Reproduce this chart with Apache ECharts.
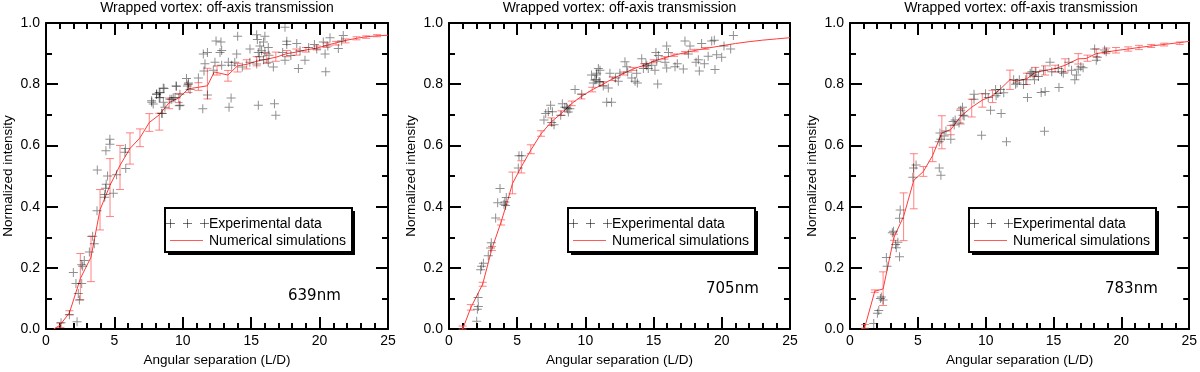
<!DOCTYPE html>
<html>
<head>
<meta charset="utf-8">
<script src="https://cdn.jsdelivr.net/npm/echarts@6/dist/echarts.min.js"></script>
<style>
  html, body { margin: 0; padding: 0; background: #fff; }
  #chart { width: 1200px; height: 372px; }
</style>
</head>
<body>
<div id="chart"></div>
<script>
// ---- data ----
var titleText = "Wrapped vortex: off-axis transmission";
var wavelengths = ["639nm", "705nm", "783nm"];

// experimental points [x, y]
var exp639 = [
  [1.1,0.021],[2.27,0.024],[1.71,0.047],[2.0,0.185],[2.19,0.149],[2.36,0.116],[2.44,0.095],[2.61,0.149],
  [2.68,0.205],[2.8,0.224],[2.61,0.21],[3.17,0.252],[3.41,0.303],[3.53,0.279],[3.73,0.387],[3.75,0.52],
  [4.29,0.431],[4.38,0.583],[4.67,0.62],[4.67,0.604],[4.35,0.46],[4.4,0.473],[4.5,0.5],[4.3,0.44],
  [4.92,0.444],[5.16,0.504],[5.77,0.578],[5.8,0.59],[5.83,0.525],
  [7.72,0.746],[7.84,0.735],[8.08,0.767],[8.33,0.772],[8.57,0.788],[8.28,0.756],[8.5,0.704],[8.69,0.725],
  [9.06,0.751],[9.3,0.756],[9.54,0.793],[9.79,0.767],[9.74,0.73],[10.27,0.819],[10.39,0.8],
  [17.47,0.986],[14.01,0.957],[15.4,0.962],[15.45,0.946],[16.0,0.957],[15.9,0.938],[12.43,0.941],[12.79,0.938],
  [12.84,0.91],[12.72,0.904],[11.8,0.904],[11.5,0.899],[13.94,0.899],[14.91,0.915],[15.64,0.925],[15.52,0.904],
  [15.76,0.909],[16.0,0.904],[16.25,0.92],[17.6,0.94],[17.6,0.93],[18.33,0.933],[19.62,0.93],[20.27,0.938],
  [20.76,0.952],[21.73,0.959],[21.61,0.941],[18.57,0.909],[19.79,0.915],[20.4,0.899],[21.37,0.917],[17.3,0.904],
  [17.47,0.878],[18.93,0.878],[17.9,0.894],[18.45,0.851],[20.45,0.841],[16.62,0.856],[16.25,0.872],[15.4,0.866],
  [14.9,0.872],[14.35,0.856],[13.8,0.872],[13.33,0.872],[13.57,0.862],[12.84,0.862],[12.35,0.872],[12.23,0.846],
  [11.55,0.843],[11.62,0.867],[11.14,0.82],[10.41,0.804],[10.33,0.794],[10.53,0.783],[9.5,0.794],[8.63,0.786],
  [8.28,0.773],[8.09,0.768],[8.33,0.757],[7.73,0.741],[8.58,0.741],[9.19,0.751],[9.43,0.757],[9.8,0.731],
  [8.45,0.705],[11.8,0.765],[13.53,0.755],[13.38,0.725],[11.46,0.72],[15.52,0.731],[16.7,0.736],[16.8,0.699],
  [15.6,0.89],[15.9,0.88],[16.3,0.895],[19.2,0.92],[20.6,0.925]
];
var exp705 = [
  [2.03,0.026],[2.08,0.065],[2.15,0.074],[2.13,0.103],[2.32,0.194],[2.39,0.205],[2.52,0.215],[2.88,0.24],
  [3.1,0.282],[3.05,0.265],[3.42,0.363],[3.57,0.413],[3.74,0.459],[4.03,0.408],[4.1,0.415],[4.2,0.43],
  [4.15,0.404],[5.08,0.526],[5.13,0.566],[5.33,0.566],[6.96,0.683],[7.09,0.704],[7.28,0.71],[7.45,0.731],
  [7.58,0.71],[7.7,0.668],[7.53,0.675],[8.19,0.699],[8.31,0.736],[8.68,0.72],[8.49,0.725],[8.86,0.72],
  [9.24,0.783],[9.73,0.767],[8.63,0.725],[8.75,0.709],[10.83,0.836],[10.95,0.851],[11.07,0.846],[10.78,0.815],
  [11.07,0.807],[10.58,0.804],[11.31,0.794],[11.68,0.788],[11.8,0.836],[11.56,0.741],[11.92,0.741],[12.53,0.836],
  [12.41,0.81],[12.9,0.873],[13.03,0.857],[13.4,0.82],[13.76,0.836],[13.64,0.81],[13.81,0.804],[14.13,0.883],
  [14.44,0.867],[14.61,0.851],[14.25,0.851],[14.86,0.862],[15.1,0.846],[15.17,0.904],[15.35,0.894],[15.23,0.875],
  [15.3,0.801],[15.96,0.925],[16.09,0.904],[15.84,0.872],[15.96,0.853],[16.57,0.857],[16.74,0.867],[17.18,0.85],
  [17.3,0.941],[17.55,0.899],[17.67,0.925],[18.11,0.872],[18.28,0.88],[18.35,0.843],[18.52,0.933],[18.72,0.867],
  [19.0,0.891],[19.26,0.941],[19.45,0.944],[19.5,0.848],[19.62,0.896],[19.99,0.888],[20.16,0.925],[20.65,0.915],
  [20.85,0.959],[10.45,0.83],[10.81,0.83],[11.0,0.809],[10.69,0.814],[12.2,0.82],[14.5,0.86],[13.1,0.84]
];
var exp783 = [
  [1.75,0.018],[2.02,0.052],[2.12,0.061],[2.24,0.1],[2.31,0.105],[2.44,0.095],[2.68,0.234],[2.73,0.205],
  [3.12,0.315],[3.36,0.276],[3.41,0.266],[3.53,0.284],[3.65,0.236],[3.65,0.362],[3.7,0.389],[4.63,0.496],
  [4.68,0.526],[4.87,0.536],[6.58,0.526],[6.7,0.503],[6.58,0.612],[6.7,0.62],[6.63,0.641],[6.94,0.631],
  [7.07,0.647],[7.43,0.62],[7.6,0.678],[7.75,0.683],[8.04,0.673],[8.16,0.715],[8.33,0.699],[7.68,0.667],
  [8.29,0.725],[8.41,0.696],[9.14,0.767],[9.14,0.751],[9.7,0.633],[9.99,0.769],[10.19,0.757],[10.36,0.715],
  [10.77,0.762],[10.73,0.783],[11.09,0.783],[11.14,0.704],[11.53,0.612],[11.33,0.772],[12.06,0.815],[12.31,0.804],
  [12.48,0.815],[12.79,0.799],[12.96,0.815],[13.08,0.757],[13.28,0.836],[13.4,0.841],[13.6,0.815],[13.7,0.841],
  [13.89,0.825],[14.09,0.773],[14.38,0.776],[14.33,0.646],[14.26,0.846],[14.74,0.872],[14.87,0.841],[15.35,0.851],
  [15.4,0.789],[15.59,0.841],[15.72,0.836],[16.33,0.846],[16.57,0.815],[16.82,0.849],[17.01,0.857],[17.18,0.854],
  [16.69,0.83],[16.13,0.872],[18.03,0.915],[18.15,0.878],[18.23,0.888],[18.76,0.912],[18.88,0.906],[13.5,0.83],
  [12.2,0.8],[3.2,0.32],[10.9,0.77]
];

// simulation curves [x, y]
var sim639 = [
  [0.55,0],[1.0,0.012],[1.71,0.053],[2.51,0.165],[3.29,0.235],[3.95,0.39],[4.68,0.47],[5.41,0.535],
  [6.14,0.59],[6.87,0.625],[7.55,0.675],[8.28,0.7],[9.0,0.74],[9.7,0.755],[10.41,0.785],[11.14,0.79],
  [11.8,0.795],[12.3,0.84],[13.3,0.83],[14.0,0.86],[14.67,0.865],[15.4,0.875],[16.14,0.882],[16.8,0.888],
  [17.6,0.9],[18.3,0.905],[19.0,0.912],[19.8,0.918],[20.5,0.927],[21.2,0.935],[21.9,0.943],[22.7,0.95],
  [23.4,0.955],[24.2,0.958],[25,0.96]
];
var sim705 = [
  [1.0,0.0],[1.6,0.07],[2.47,0.147],[3.15,0.263],[3.82,0.35],[4.3,0.42],[4.65,0.475],[5.3,0.53],
  [6.0,0.585],[6.75,0.638],[7.5,0.677],[8.25,0.705],[9.0,0.737],[9.7,0.76],[10.5,0.782],[11.3,0.8],
  [12.0,0.818],[12.8,0.835],[13.5,0.85],[14.3,0.862],[15.0,0.875],[15.8,0.886],[16.5,0.895],[17.3,0.903],
  [18.0,0.91],[18.8,0.917],[19.5,0.922],[20.3,0.928],[21.0,0.933],[22,0.939],[23,0.944],[24,0.948],[25,0.952]
];
var sim783 = [
  [0.85,0],[1.1,0.008],[1.83,0.124],[2.44,0.131],[3.24,0.3],[3.95,0.368],[4.7,0.486],[5.41,0.515],
  [6.09,0.567],[6.77,0.641],[7.43,0.652],[8.16,0.695],[8.97,0.725],[9.75,0.748],[10.5,0.762],[11.1,0.785],
  [11.79,0.815],[12.3,0.81],[13.03,0.818],[13.65,0.838],[14.38,0.845],[15.12,0.851],[15.85,0.862],[16.82,0.883],
  [17.4,0.884],[18.15,0.9],[18.88,0.905],[19.6,0.91],[20.5,0.915],[21.3,0.92],[22.2,0.925],[23.15,0.93],
  [24.3,0.936],[25,0.94]
];

// simulation error bars [x, low, high]
var err639 = [
  [1.05,0.005,0.02],[1.71,0.047,0.06],[2.51,0.096,0.247],[3.29,0.155,0.303],[3.95,0.324,0.456],[4.68,0.368,0.557],
  [5.41,0.456,0.6],[6.14,0.539,0.641],[6.87,0.596,0.654],[7.55,0.646,0.704],[8.28,0.65,0.705],[9.0,0.72,0.755],
  [9.7,0.74,0.77],[10.41,0.773,0.8],[11.14,0.78,0.805],[11.8,0.752,0.852],[12.5,0.83,0.86],[13.3,0.81,0.845],
  [14.0,0.84,0.868],[14.67,0.85,0.88],[15.4,0.86,0.89],[16.14,0.868,0.9],[16.8,0.875,0.905],[17.6,0.89,0.91],
  [18.3,0.895,0.915],[19.0,0.905,0.92],[19.8,0.912,0.925],[20.5,0.92,0.935],[21.2,0.928,0.94],[21.9,0.935,0.948],
  [22.7,0.945,0.955],[23.4,0.95,0.958],[24.2,0.955,0.962]
];
var err705 = [
  [1.0,0.0,0.01],[1.6,0.062,0.08],[2.47,0.14,0.153],[3.15,0.257,0.27],[3.82,0.34,0.357],[4.65,0.442,0.513],
  [5.3,0.51,0.55],[6.0,0.573,0.602],[6.75,0.63,0.648],[7.5,0.665,0.69],[8.25,0.698,0.713],[9.0,0.73,0.745],
  [9.7,0.752,0.768],[10.5,0.775,0.79],[11.3,0.795,0.808],[12.0,0.812,0.824],[12.8,0.83,0.84],[13.5,0.845,0.855],
  [14.3,0.857,0.867],[15.0,0.87,0.88],[15.8,0.882,0.89],[16.5,0.891,0.899],[17.3,0.899,0.907],[18.0,0.906,0.914],
  [18.8,0.914,0.92]
];
var err783 = [
  [1.1,0.003,0.015],[1.83,0.12,0.128],[2.44,0.077,0.187],[3.24,0.29,0.31],[3.95,0.289,0.445],[4.7,0.393,0.573],
  [5.41,0.499,0.531],[6.09,0.547,0.594],[6.77,0.589,0.697],[7.43,0.635,0.665],[8.16,0.67,0.72],[8.97,0.693,0.751],
  [9.75,0.725,0.769],[10.5,0.74,0.78],[11.79,0.783,0.846],[13.03,0.799,0.836],[13.65,0.825,0.855],[14.38,0.83,0.86],
  [15.12,0.84,0.862],[15.85,0.84,0.883],[16.82,0.866,0.9],[17.5,0.875,0.895],[18.15,0.89,0.915],[18.88,0.9,0.918],
  [19.6,0.902,0.92],[20.5,0.908,0.922],[21.3,0.913,0.927],[22.2,0.92,0.93],[23.15,0.925,0.934],[24.3,0.93,0.938]
];

var expSets = [exp639, exp705, exp783];
var simSets = [sim639, sim705, sim783];
var errSets = [err639, err705, err783];

// ---- layout ----
var gridLefts = [46, 449, 850];
var gridWidths = [342, 341, 342];
var gridTop = 23, gridHeight = 317;
var labelOffsets = [[242, 296], [257, 289], [255, 289]]; // wavelength label, relative to grid left
var FONT = "'Liberation Sans', Arial, sans-serif";

var chart = echarts.init(document.getElementById("chart"));

var plusPath = "path://M4,0h1v9h-1z M0,4h9v1h-9z";

function axisCommon(show) {
  return {
    axisLine: { show: true, onZero: false, lineStyle: { color: "#000", width: 2 } },
    axisTick: { show: true, inside: true, length: 12, lineStyle: { color: "#000", width: 2 } },
    minorTick: { show: true, length: 6, lineStyle: { color: "#000", width: 2 } },
    splitLine: { show: false },
    axisLabel: { show: show }
  };
}

var grids = [], xAxes = [], yAxes = [], series = [], graphics = [];

for (var i = 0; i < 3; i++) {
  grids.push({ left: gridLefts[i], top: gridTop, width: gridWidths[i], height: gridHeight });

  var xb = axisCommon(true);
  xb.type = "value"; xb.gridIndex = i; xb.position = "bottom";
  xb.min = 0; xb.max = 25; xb.interval = 5;
  xb.minorTick.splitNumber = 5;
  xb.axisLabel = { show: true, margin: 5, color: "#000", fontSize: 14, fontFamily: FONT };
  xb.name = "Angular separation (L/D)";
  xb.nameLocation = "middle"; xb.nameGap = 19;
  xb.nameTextStyle = { color: "#000", fontSize: 13.5, fontFamily: FONT };
  var xt = axisCommon(false);
  xt.type = "value"; xt.gridIndex = i; xt.position = "top";
  xt.min = 0; xt.max = 25; xt.interval = 5;
  xt.minorTick.splitNumber = 5;
  xAxes.push(xb, xt);

  var yl = axisCommon(true);
  yl.type = "value"; yl.gridIndex = i; yl.position = "left";
  yl.min = 0; yl.max = 1; yl.interval = 0.2;
  yl.minorTick.splitNumber = 2;
  yl.axisLabel = { show: true, margin: 6, color: "#000", fontSize: 14, fontFamily: FONT,
    formatter: function (v) { return v.toFixed(1); } };
  yl.name = "Normalized intensity";
  yl.nameLocation = "middle"; yl.nameGap = 31;
  yl.nameTextStyle = { color: "#000", fontSize: 13.5, fontFamily: FONT };
  var yr = axisCommon(false);
  yr.type = "value"; yr.gridIndex = i; yr.position = "right";
  yr.min = 0; yr.max = 1; yr.interval = 0.2;
  yr.minorTick.splitNumber = 2;
  yAxes.push(yl, yr);

  series.push({
    type: "custom",
    xAxisIndex: 2 * i, yAxisIndex: 2 * i,
    data: errSets[i],
    encode: { x: 0, y: [1, 2] },
    z: 2,
    renderItem: function (params, api) {
      var lo = api.coord([api.value(0), api.value(1)]);
      var hi = api.coord([api.value(0), api.value(2)]);
      var hw = 4;
      var st = { stroke: "rgba(255,90,90,0.75)", lineWidth: 1 };
      return {
        type: "group",
        children: [
          { type: "line", shape: { x1: lo[0], y1: lo[1], x2: hi[0], y2: hi[1] }, style: st },
          { type: "line", shape: { x1: lo[0] - hw, y1: lo[1], x2: lo[0] + hw, y2: lo[1] }, style: st },
          { type: "line", shape: { x1: hi[0] - hw, y1: hi[1], x2: hi[0] + hw, y2: hi[1] }, style: st }
        ]
      };
    }
  });

  series.push({
    type: "line",
    xAxisIndex: 2 * i, yAxisIndex: 2 * i,
    data: simSets[i],
    showSymbol: false,
    lineStyle: { color: "#ff3b3b", width: 1 },
    z: 3,
    silent: true
  });

  series.push({
    type: "scatter",
    xAxisIndex: 2 * i, yAxisIndex: 2 * i,
    data: expSets[i],
    symbol: plusPath,
    symbolSize: 9,
    itemStyle: { color: "rgba(0,0,0,0.55)" },
    z: 4,
    silent: true
  });

  var gl = gridLefts[i];
  var cx = gl + gridWidths[i] / 2;
  // title
  graphics.push({ type: "text", x: cx, y: 8, style: { text: titleText, fill: "#000",
    font: "14px " + FONT, textAlign: "center", textVerticalAlign: "middle" } });
  // legend box
  var lx = gl + 119, ly = 208;
  graphics.push({ type: "rect", shape: { x: lx + 3, y: ly + 3, width: 187, height: 44 },
    style: { fill: "#000" }, z: 10 });
  graphics.push({ type: "rect", shape: { x: lx, y: ly, width: 187, height: 44 },
    style: { fill: "#fff", stroke: "#000", lineWidth: 2 }, z: 11 });
  [5, 22, 39].forEach(function (dx) {
    graphics.push({ type: "line", shape: { x1: lx + dx - 4, y1: ly + 15.5, x2: lx + dx + 5, y2: ly + 15.5 },
      style: { stroke: "rgba(0,0,0,0.55)", lineWidth: 1 }, z: 12 });
    graphics.push({ type: "line", shape: { x1: lx + dx + 0.5, y1: ly + 11, x2: lx + dx + 0.5, y2: ly + 20 },
      style: { stroke: "rgba(0,0,0,0.55)", lineWidth: 1 }, z: 12 });
  });
  graphics.push({ type: "line", shape: { x1: lx + 5, y1: ly + 32.5, x2: lx + 38, y2: ly + 32.5 },
    style: { stroke: "#ff5a5a", lineWidth: 1 }, z: 12 });
  graphics.push({ type: "text", x: lx + 44, y: ly + 16, style: { text: "Experimental data", fill: "#000",
    font: "14px " + FONT, textVerticalAlign: "middle" }, z: 12 });
  graphics.push({ type: "text", x: lx + 44, y: ly + 33, style: { text: "Numerical simulations", fill: "#000",
    font: "14px " + FONT, textVerticalAlign: "middle" }, z: 12 });
  // wavelength label
  graphics.push({ type: "text", x: gl + labelOffsets[i][0], y: labelOffsets[i][1],
    style: { text: wavelengths[i], fill: "#000", font: "15px 'DejaVu Sans', sans-serif",
      textVerticalAlign: "middle" }, z: 12 });
}

chart.setOption({
  animation: false,
  backgroundColor: "#fff",
  grid: grids,
  xAxis: xAxes,
  yAxis: yAxes,
  series: series,
  graphic: graphics
});
</script>
</body>
</html>
